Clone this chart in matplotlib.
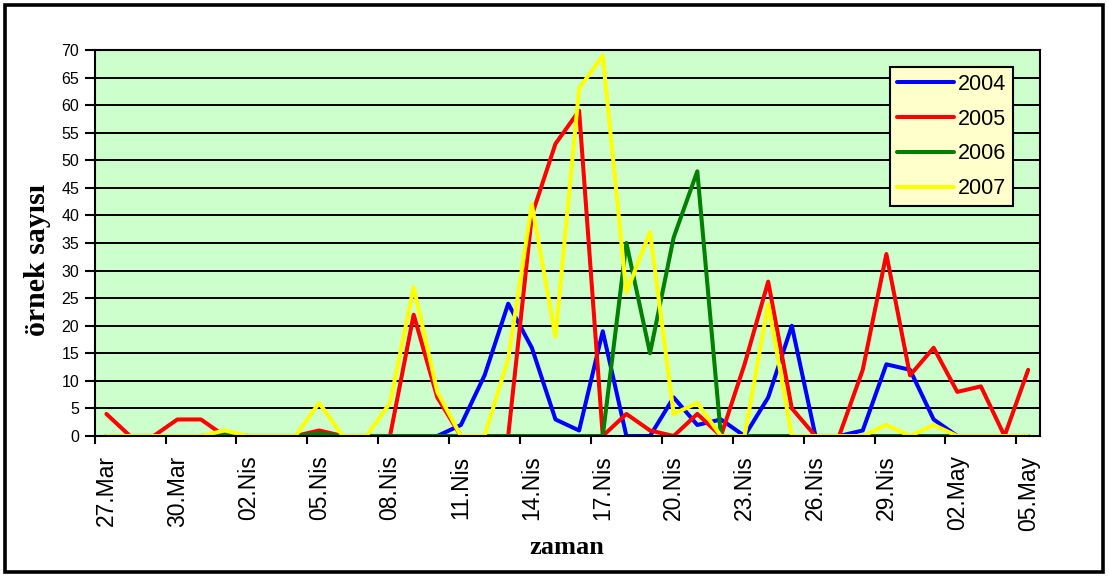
import matplotlib.pyplot as plt
from matplotlib.patches import Rectangle

days = ["27.Mar", "28.Mar", "29.Mar", "30.Mar", "31.Mar",
        "01.Nis", "02.Nis", "03.Nis", "04.Nis", "05.Nis", "06.Nis", "07.Nis",
        "08.Nis", "09.Nis", "10.Nis", "11.Nis", "12.Nis", "13.Nis", "14.Nis",
        "15.Nis", "16.Nis", "17.Nis", "18.Nis", "19.Nis", "20.Nis", "21.Nis",
        "22.Nis", "23.Nis", "24.Nis", "25.Nis", "26.Nis", "27.Nis", "28.Nis",
        "29.Nis", "30.Nis", "01.May", "02.May", "03.May", "04.May", "05.May"]

y2004 = [0, 0, 0, 0, 0, 0, 0, 0, 0, 0, 0, 0, 0, 0, 0, 2, 11, 24, 16, 3,
         1, 19, 0, 0, 7, 2, 3, 0, 7, 20, 0, 0, 1, 13, 12, 3, 0, 0, 0, 0]
y2005 = [4, 0, 0, 3, 3, 0, 0, 0, 0, 1, 0, 0, 0, 22, 7, 0, 0, 0, 40, 53,
         59, 0, 4, 1, 0, 4, 0, 13, 28, 5, 0, 0, 12, 33, 11, 16, 8, 9, 0, 12]
y2006 = [0, 0, 0, 0, 0, 0.5, 0, 0, 0, 0.5, 0, 0, 0, 0, 0, 0, 0, 0, 0, 0,
         0, 0, 35, 15, 36, 48, 0, 0, 0, 0, 0, 0, 0, 0, 0, 0, 0, 0, 0, 0]
y2007 = [0, 0, 0, 0, 0, 1, 0, 0, 0, 6, 0, 0, 6, 27, 8, 0, 0, 14, 42, 18,
         63, 69, 26, 37, 4, 6, 0, 0, 24, 0, 0, 0, 0, 2, 0, 2, 0, 0, 0, 0]

series = [("2004", y2004, "#0000ff"), ("2005", y2005, "#ff0000"),
          ("2006", y2006, "#008000"), ("2007", y2007, "#ffff00")]

W, H = 1109, 576
fig = plt.figure(figsize=(W / 100, H / 100), dpi=100)
ax = fig.add_axes([94.6 / W, 1 - 436 / H, (1040 - 94.6) / W, (436 - 50) / H])
ax.set_facecolor("#ccffcc")

x = list(range(len(days)))
for name, vals, color in series:
    ax.plot(x, vals, color=color, lw=2.9, label=name,
            solid_capstyle="round", solid_joinstyle="round")

ax.set_xlim(-0.5, len(days) - 0.5)
ax.set_ylim(0, 70)
ax.set_yticks(range(0, 71, 5))
for v in range(5, 70, 5):
    ax.axhline(v, color="black", lw=1.4, zorder=0.5)

# tick marks at category borders, labels at category centres
ax.set_xticks([i - 0.5 for i in range(0, len(days), 3)], [""] * 14)
ax.set_xticks(list(range(0, len(days), 3)), days[::3], minor=True)
ax.tick_params(axis="x", which="major", length=6, width=1.5, direction="out")
ax.tick_params(axis="x", which="minor", length=0, pad=14, labelsize=16.5,
               labelrotation=90)
ax.tick_params(axis="y", length=7, width=1.5, pad=4, labelsize=11.5)
for lab in ax.get_xticklabels(minor=True) + ax.get_yticklabels():
    lab.set_fontfamily("Liberation Sans")

for s in ax.spines.values():
    s.set_linewidth(1.5)
    s.set_color("black")

fig.text(567 / W, 1 - 548 / H, "zaman", ha="center", va="center",
         family="Liberation Serif", weight="bold", fontsize=19)
fig.text(38 / W, 1 - 260 / H, "örnek sayısı", ha="center", va="center",
         rotation=90, family="Liberation Serif", weight="bold", fontsize=21.5)

leg = ax.legend(loc="upper left", bbox_to_anchor=(0.841, 0.956),
                borderaxespad=0, fancybox=False, framealpha=1,
                facecolor="#ffffcc", edgecolor="black",
                prop={"family": "Liberation Sans", "size": 15.5},
                handlelength=2.65, handletextpad=0.2, labelspacing=0.64,
                borderpad=0.32)
leg.get_frame().set_linewidth(1.5)

fig.add_artist(Rectangle((5 / W, 4 / H), 1098 / W, 567 / H,
                         transform=fig.transFigure, fill=False,
                         edgecolor="black", lw=2.6))

fig.savefig("out.png", dpi=100)
